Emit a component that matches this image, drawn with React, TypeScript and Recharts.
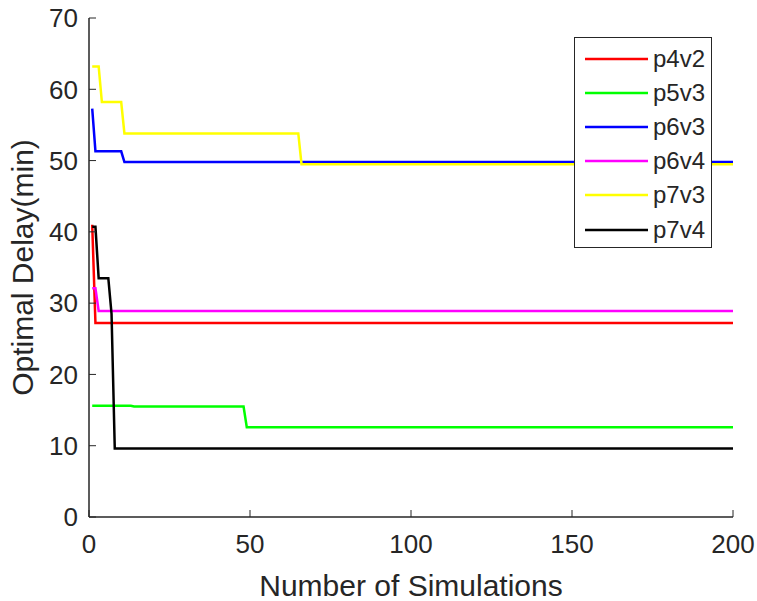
import React from 'react';
import { LineChart, Line, XAxis, YAxis, Legend } from 'recharts';

// Number of simulations (x) vs optimal delay in minutes (y), change points
const p4v2 = [
  { x: 1, y: 41.0 },
  { x: 2, y: 27.2 },
  { x: 200, y: 27.2 },
];
const p5v3 = [
  { x: 1, y: 15.6 },
  { x: 13, y: 15.6 },
  { x: 14, y: 15.5 },
  { x: 48, y: 15.5 },
  { x: 49, y: 12.6 },
  { x: 200, y: 12.6 },
];
const p6v3 = [
  { x: 1, y: 57.3 },
  { x: 2, y: 51.3 },
  { x: 10, y: 51.3 },
  { x: 11, y: 49.8 },
  { x: 200, y: 49.8 },
];
const p6v4 = [
  { x: 1, y: 32.1 },
  { x: 2, y: 32.1 },
  { x: 3, y: 28.9 },
  { x: 200, y: 28.9 },
];
const p7v3 = [
  { x: 1, y: 63.2 },
  { x: 3, y: 63.2 },
  { x: 4, y: 58.2 },
  { x: 10, y: 58.2 },
  { x: 11, y: 53.8 },
  { x: 65, y: 53.8 },
  { x: 66, y: 49.5 },
  { x: 200, y: 49.5 },
];
const p7v4 = [
  { x: 1, y: 40.7 },
  { x: 2, y: 40.7 },
  { x: 3, y: 33.5 },
  { x: 6, y: 33.5 },
  { x: 7, y: 28.5 },
  { x: 8, y: 9.6 },
  { x: 200, y: 9.6 },
];

const simulationTicks = [0, 50, 100, 150, 200];
const delayTicks = [0, 10, 20, 30, 40, 50, 60, 70];

const series = [
  { name: 'p4v2', data: p4v2, color: '#FF0000' },
  { name: 'p5v3', data: p5v3, color: '#00FF00' },
  { name: 'p6v3', data: p6v3, color: '#0000FF' },
  { name: 'p6v4', data: p6v4, color: '#FF00FF' },
  { name: 'p7v3', data: p7v3, color: '#FFFF00' },
  { name: 'p7v4', data: p7v4, color: '#000000' },
];

const AXIS = '#262626';
const FONT = 'Arial, "Liberation Sans", Helvetica, sans-serif';
const TICK_LEN = 7;

const BottomTick = (props: any) => {
  const { x, y, payload } = props;
  const axisY = y - 18;
  return (
    <g>
      <line x1={x} x2={x} y1={axisY} y2={axisY - TICK_LEN} stroke={AXIS} strokeWidth={1} />
      <text x={x} y={y} dy="0.71em" textAnchor="middle" fill={AXIS} fontSize={26} fontFamily={FONT}>
        {payload.value}
      </text>
    </g>
  );
};

const TopTick = (props: any) => {
  const { x, y } = props;
  return <line x1={x} x2={x} y1={y} y2={y + TICK_LEN} stroke={AXIS} strokeWidth={1} />;
};

const LeftTick = (props: any) => {
  const { x, y, payload } = props;
  const axisX = x + 11;
  return (
    <g>
      <line x1={axisX} x2={axisX + TICK_LEN} y1={y} y2={y} stroke={AXIS} strokeWidth={1} />
      <text x={x} y={y} dy="0.355em" textAnchor="end" fill={AXIS} fontSize={26} fontFamily={FONT}>
        {payload.value}
      </text>
    </g>
  );
};

const RightTick = (props: any) => {
  const { x, y } = props;
  return <line x1={x - TICK_LEN} x2={x} y1={y} y2={y} stroke={AXIS} strokeWidth={1} />;
};

const LegendBox = () => (
  <div
    style={{
      width: 138,
      height: 211,
      boxSizing: 'border-box',
      border: `1.5px solid ${AXIS}`,
      background: '#fff',
      paddingTop: 4,
    }}
  >
    {series.map((s) => (
      <div key={s.name} style={{ display: 'flex', alignItems: 'center', height: 34.1 }}>
        <svg width={78} height={10} style={{ display: 'block' }}>
          <line x1={10} x2={73} y1={5} y2={5} stroke={s.color} strokeWidth={2.5} />
        </svg>
        <span style={{ fontFamily: FONT, fontSize: 24, color: AXIS, lineHeight: '24px' }}>{s.name}</span>
      </div>
    ))}
  </div>
);

export default function App() {
  return (
    <div style={{ position: 'absolute', top: 0, left: 0, width: 757, height: 601, background: '#fff' }}>
      <LineChart width={757} height={601} margin={{ top: 18, right: 24, bottom: 0, left: 0 }}>
        <XAxis
          xAxisId="b"
          type="number"
          dataKey="x"
          domain={[0, 200]}
          ticks={simulationTicks}
          allowDataOverflow
          height={84}
          tickSize={0}
          tickMargin={18}
          tickLine={false}
          tick={<BottomTick />}
          axisLine={{ stroke: AXIS, strokeWidth: 1.5 }}
          label={{
            value: 'Number of Simulations',
            position: 'center',
            dy: 26,
            fill: AXIS,
            fontSize: 30,
            fontFamily: FONT,
          }}
        />
        <XAxis
          xAxisId="t"
          orientation="top"
          type="number"
          dataKey="x"
          domain={[0, 200]}
          ticks={simulationTicks}
          allowDataOverflow
          height={0}
          tickSize={0}
          tickMargin={0}
          tickLine={false}
          tick={<TopTick />}
          axisLine={{ stroke: AXIS, strokeWidth: 1.5 }}
        />
        <YAxis
          yAxisId="l"
          type="number"
          domain={[0, 70]}
          ticks={delayTicks}
          allowDataOverflow
          width={89}
          tickSize={0}
          tickMargin={11}
          tickLine={false}
          tick={<LeftTick />}
          axisLine={{ stroke: AXIS, strokeWidth: 1.5 }}
          label={{
            value: 'Optimal Delay(min)',
            angle: -90,
            position: 'center',
            dx: -22.5,
            fill: AXIS,
            fontSize: 30,
            fontFamily: FONT,
          }}
        />
        <YAxis
          yAxisId="r"
          orientation="right"
          type="number"
          domain={[0, 70]}
          ticks={delayTicks}
          allowDataOverflow
          width={0}
          tickSize={0}
          tickMargin={0}
          tickLine={false}
          tick={<RightTick />}
          axisLine={{ stroke: AXIS, strokeWidth: 1.5 }}
        />
        {series.map((s) => (
          <Line
            key={s.name}
            xAxisId="b"
            yAxisId="l"
            data={s.data}
            dataKey="y"
            name={s.name}
            type="linear"
            stroke={s.color}
            strokeWidth={2.5}
            dot={false}
            activeDot={false}
            isAnimationActive={false}
          />
        ))}
        <Legend
          layout="vertical"
          align="center"
          verticalAlign="middle"
          wrapperStyle={{ top: 37, left: 574, width: 138, height: 211 }}
          content={() => <LegendBox />}
        />
      </LineChart>
    </div>
  );
}
